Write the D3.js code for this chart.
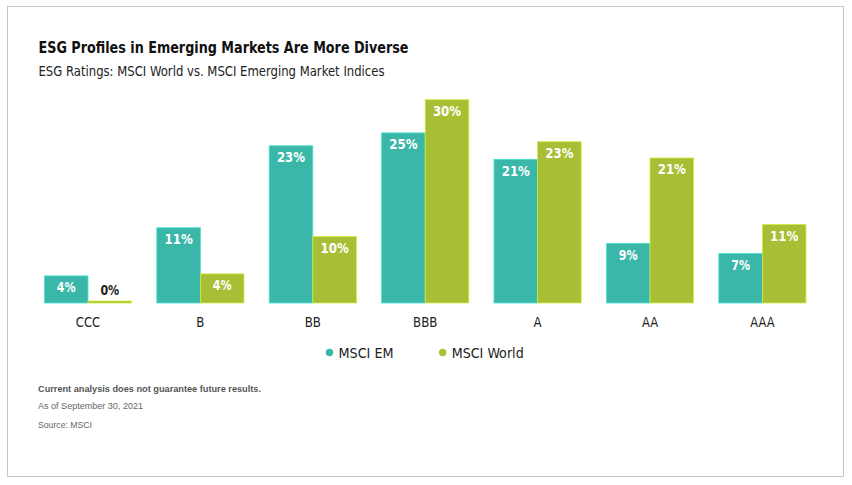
<!DOCTYPE html>
<html>
<head>
<meta charset="utf-8">
<script src="https://cdn.jsdelivr.net/npm/d3@7"></script>
<style>
  body { margin: 0; background: #fff; }
  text { font-family: "DejaVu Sans Condensed", "Liberation Sans Narrow", "Liberation Sans", sans-serif; }
  .note { font-family: "Liberation Sans", Arial, sans-serif; }
</style>
</head>
<body>
<div id="chart"></div>
<script>
// ratings buckets and the share of each index in them (%)
var ratings = ["CCC", "B", "BB", "BBB", "A", "AA", "AAA"];
var seriesNames = ["MSCI EM", "MSCI World"];
var emValues = [4, 11.1, 23.2, 25.1, 21.2, 8.8, 7.3];
var worldValues = [0, 4.3, 9.8, 30, 23.8, 21.4, 11.6];
var emLabels = ["4%", "11%", "23%", "25%", "21%", "9%", "7%"];
var worldLabels = ["0%", "4%", "10%", "30%", "23%", "21%", "11%"];
var colors = ["#3ab7a8", "#a8bf35"];
var yTicks = [0, 30];

var width = 852, height = 485;

var svg = d3.select("#chart").append("svg")
  .attr("width", width)
  .attr("height", height);

// squeeze text to the width it has in the original (condensed face)
function fit(sel, w) {
  sel.each(function() {
    var len = this.getComputedTextLength();
    var target = typeof w === "function" ? w.apply(this, arguments) : w;
    if (len > target) {
      d3.select(this).attr("textLength", target).attr("lengthAdjust", "spacingAndGlyphs");
    }
  });
}

// frame
svg.append("rect")
  .attr("x", 7.5).attr("y", 6.5)
  .attr("width", 836).attr("height", 470)
  .attr("fill", "none")
  .attr("stroke", "#c6c6c6");

// titles
svg.append("text")
  .attr("x", 38.5).attr("y", 53)
  .attr("font-size", 16).attr("font-weight", "bold")
  .attr("fill", "#111")
  .text("ESG Profiles in Emerging Markets Are More Diverse")
  .call(fit, 370);
svg.append("text")
  .attr("x", 38.5).attr("y", 76)
  .attr("font-size", 14.5)
  .attr("fill", "#222")
  .text("ESG Ratings: MSCI World vs. MSCI Emerging Market Indices")
  .call(fit, 346);

// scales
var x = d3.scalePoint().domain(ratings).range([88, 762.4]);
var xInner = d3.scaleBand().domain(seriesNames).range([-43.6, 43.6]);
var y = d3.scaleLinear().domain(d3.extent(yTicks)).range([303, 99.7]);

var rows = ratings.map(function(r, i) {
  return [
    { cat: r, key: seriesNames[0], value: emValues[i], label: emLabels[i], color: colors[0] },
    { cat: r, key: seriesNames[1], value: worldValues[i], label: worldLabels[i], color: colors[1] }
  ];
});

var groups = svg.append("g").selectAll("g")
  .data(rows)
  .enter().append("g")
  .attr("transform", function(d) { return "translate(" + x(d[0].cat) + ",0)"; });

groups.selectAll("rect")
  .data(function(d) { return d; })
  .enter().append("rect")
    .attr("x", function(d) { return xInner(d.key); })
    .attr("width", xInner.bandwidth())
    .attr("y", function(d) { return Math.min(y(d.value), y(0) - 2); })
    .attr("height", function(d) { return Math.max(y(0) - y(d.value), 2); })
    .attr("fill", function(d) { return d.color; })
    .attr("stroke", function(d) { return d3.color(d.color).brighter(0.6); })
    .attr("stroke-width", 0.8);

groups.selectAll("text.val")
  .data(function(d) { return d; })
  .enter().append("text")
    .attr("class", "val")
    .attr("x", function(d) { return xInner(d.key) + xInner.bandwidth() / 2; })
    .attr("y", function(d) { return d.value > 1 ? y(d.value) + 16.5 : y(0) - 8; })
    .attr("text-anchor", "middle")
    .attr("font-size", 14).attr("font-weight", "bold")
    .attr("fill", function(d) { return d.value > 1 ? "#fff" : "#222"; })
    .text(function(d) { return d.label; })
    .call(fit, function(d) { return d.label.length * 9.4; });

// category axis labels
svg.append("g").selectAll("text")
  .data(ratings)
  .enter().append("text")
    .attr("x", function(d) { return x(d); })
    .attr("y", 327)
    .attr("text-anchor", "middle")
    .attr("font-size", 14.5)
    .attr("fill", "#222")
    .text(function(d) { return d; })
    .call(fit, function(d) { return d.length * 8.1; });

// legend
var legendX = [329.5, 442.7];
var legendW = [55, 72];
var legend = svg.append("g").selectAll("g")
  .data(seriesNames)
  .enter().append("g")
  .attr("transform", function(d, i) { return "translate(" + legendX[i] + ",352.5)"; });
legend.append("circle")
  .attr("r", 3.7)
  .attr("fill", function(d, i) { return colors[i]; });
legend.append("text")
  .attr("x", 9).attr("y", 5)
  .attr("font-size", 14.5)
  .attr("fill", "#222")
  .text(function(d) { return d; })
  .call(fit, function(d) { return legendW[seriesNames.indexOf(d)]; });

// notes
var notes = [
  { t: "Current analysis does not guarantee future results.", y: 391.5, w: "bold", len: 223 },
  { t: "As of September 30, 2021", y: 409, w: "normal", len: 105 },
  { t: "Source: MSCI", y: 427.5, w: "normal", len: 54 }
];
svg.append("g").selectAll("text")
  .data(notes)
  .enter().append("text")
    .attr("class", "note")
    .attr("x", 38)
    .attr("y", function(d) { return d.y; })
    .attr("font-size", 9.5)
    .attr("font-weight", function(d) { return d.w; })
    .attr("fill", function(d) { return d.w === "bold" ? "#555" : "#666"; })
    .text(function(d) { return d.t; })
    .call(fit, function(d) { return d.len; });
</script>
</body>
</html>
